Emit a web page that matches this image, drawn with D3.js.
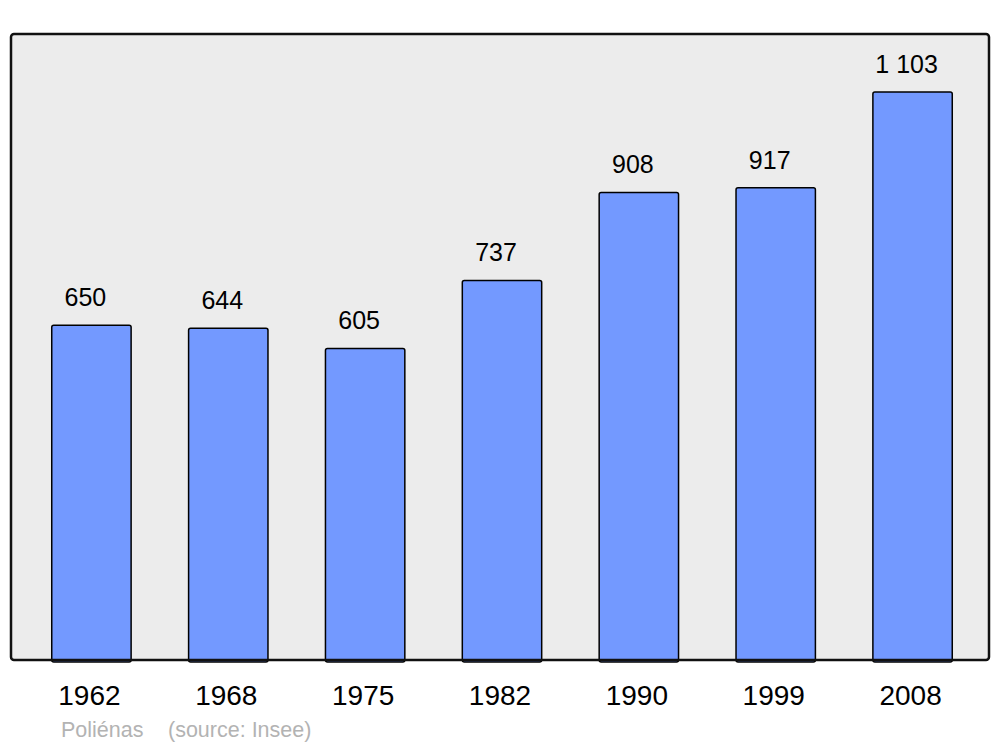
<!DOCTYPE html>
<html>
<head>
<meta charset="utf-8">
<script src="https://cdn.jsdelivr.net/npm/d3@7"></script>
<style>
  html, body { margin: 0; padding: 0; background: #ffffff; }
  svg { display: block; }
  text { font-family: "Liberation Sans", Arial, sans-serif; }
</style>
</head>
<body>
<svg id="chart" width="1000" height="747"></svg>
<script>
const years = ["1962", "1968", "1975", "1982", "1990", "1999", "2008"];
const population = [650, 644, 605, 737, 908, 917, 1103];
const valueLabels = ["650", "644", "605", "737", "908", "917", "1 103"];
const commune = "Poliénas";
const source = "(source: Insee)";

const svg = d3.select("#chart");
const frame = { left: 11, right: 989, top: 34, bottom: 660 };

const x = d3.scaleBand()
  .domain(years)
  .range([23, 981])
  .paddingInner(0.42)
  .paddingOuter(0.21);

const y = d3.scaleLinear()
  .domain([0, 1103])
  .range([frame.bottom, 92]);

// background frame
svg.append("rect")
  .attr("x", frame.left)
  .attr("y", frame.top)
  .attr("width", frame.right - frame.left)
  .attr("height", frame.bottom - frame.top)
  .attr("rx", 3).attr("ry", 3)
  .attr("fill", "#ececec")
  .attr("stroke", "none");

const data = years.map((yr, i) => ({ yr, v: population[i], lab: valueLabels[i] }));

svg.selectAll("rect.bar")
  .data(data)
  .join("rect")
  .attr("class", "bar")
  .attr("x", d => x(d.yr))
  .attr("y", d => y(d.v))
  .attr("width", x.bandwidth())
  .attr("height", d => y(0) - y(d.v) + 2)
  .attr("rx", 2).attr("ry", 2)
  .attr("fill", "#7399ff")
  .attr("stroke", "#000")
  .attr("stroke-width", 1.5);

// frame outline on top
svg.append("rect")
  .attr("x", frame.left)
  .attr("y", frame.top)
  .attr("width", frame.right - frame.left)
  .attr("height", frame.bottom - frame.top)
  .attr("rx", 3).attr("ry", 3)
  .attr("fill", "none")
  .attr("stroke", "#111")
  .attr("stroke-width", 2.5);

// value labels
svg.selectAll("text.val")
  .data(data)
  .join("text")
  .attr("class", "val")
  .attr("x", d => x(d.yr) + x.bandwidth() / 2 - 6)
  .attr("y", d => y(d.v) - 19)
  .attr("text-anchor", "middle")
  .attr("font-size", 25)
  .attr("fill", "#000")
  .text(d => d.lab);

// year axis labels
const xAxis = d3.axisBottom(x).tickSize(0).tickPadding(0);
const gx = svg.append("g")
  .attr("transform", `translate(-2, ${frame.bottom})`)
  .call(xAxis);
gx.select(".domain").remove();
gx.selectAll("text")
  .attr("dy", null)
  .attr("y", 45)
  .attr("font-size", 28)
  .attr("font-family", "Liberation Sans, Arial, sans-serif")
  .attr("fill", "#000");

// source line
svg.append("text")
  .attr("x", 61)
  .attr("y", 737)
  .attr("font-size", 21.5)
  .attr("fill", "#b3b3b3")
  .text(commune);
svg.append("text")
  .attr("x", 168)
  .attr("y", 737)
  .attr("font-size", 21.5)
  .attr("fill", "#b3b3b3")
  .text(source);
</script>
</body>
</html>
